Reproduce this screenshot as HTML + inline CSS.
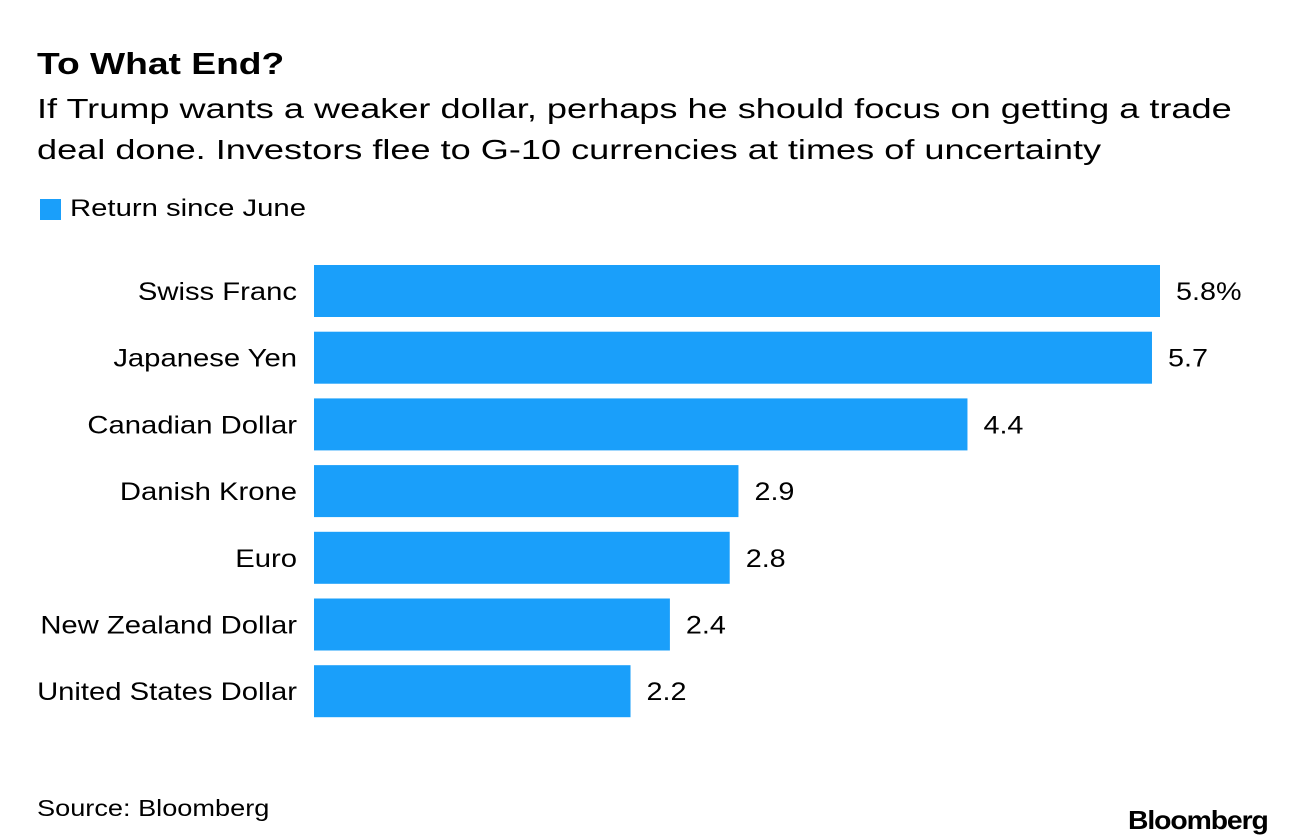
<!DOCTYPE html>
<html><head><meta charset="utf-8"><style>
body{margin:0;width:1296px;height:840px;background:#fff;font-family:"Liberation Sans",sans-serif;color:#000;position:relative;overflow:hidden}
.t{position:absolute;white-space:nowrap;transform-origin:0 0}
</style></head><body>
<div class="t" style="left:37px;top:46px;font-size:31px;font-weight:bold;transform:scaleX(1.2)">To What End?</div>
<div class="t" style="left:37px;top:88px;font-size:28px;line-height:41px;transform:scaleX(1.29)">If Trump wants a weaker dollar, perhaps he should focus on getting a trade<br>deal done. Investors flee to G-10 currencies at times of uncertainty</div>
<div style="position:absolute;left:40px;top:199px;width:21px;height:21px;background:#1a9ffa"></div>
<div class="t" style="left:70px;top:195px;font-size:24px;transform:scaleX(1.22)">Return since June</div>
<svg id="chart" width="1296" height="840" style="position:absolute;left:0;top:0"></svg>
<div class="t" style="left:37px;top:795px;font-size:23px;transform:scaleX(1.18)">Source: Bloomberg</div>
<div class="t" style="left:1128px;top:805px;font-size:26px;font-weight:bold;letter-spacing:-1px;transform:scaleX(1.09)">Bloomberg</div>
<script>
const categories=["Swiss Franc","Japanese Yen","Canadian Dollar","Danish Krone","Euro","New Zealand Dollar","United States Dollar"];
const values=[5.8,5.745,4.48,2.91,2.85,2.44,2.17];
const valueLabels=["5.8%","5.7","4.4","2.9","2.8","2.4","2.2"];
const svg=document.getElementById('chart');
const NS='http://www.w3.org/2000/svg';
const x0=314, scale=846/5.8;
const xPos=v=>x0+v*scale;
const yPos=i=>265+i*66.7;
categories.forEach((c,i)=>{
  const y=yPos(i);
  const r=document.createElementNS(NS,'rect');
  r.setAttribute('x',x0);r.setAttribute('y',y);
  r.setAttribute('width',xPos(values[i])-x0);r.setAttribute('height',52);
  r.setAttribute('fill','#1a9ffa');
  
  
  svg.appendChild(r);
  const t=document.createElementNS(NS,'text');
  t.setAttribute('transform','translate(297,'+(y+35)+') scale(1.17,1)');
  t.setAttribute('text-anchor','end');t.setAttribute('font-size','25');
  t.textContent=c;
  
  
  svg.appendChild(t);
  const v=document.createElementNS(NS,'text');
  v.setAttribute('transform','translate('+(xPos(values[i])+16)+','+(y+35)+') scale(1.15,1)');
  v.setAttribute('font-size','25');
  v.textContent=valueLabels[i];
  
  
  svg.appendChild(v);
});
</script>
</body></html>
